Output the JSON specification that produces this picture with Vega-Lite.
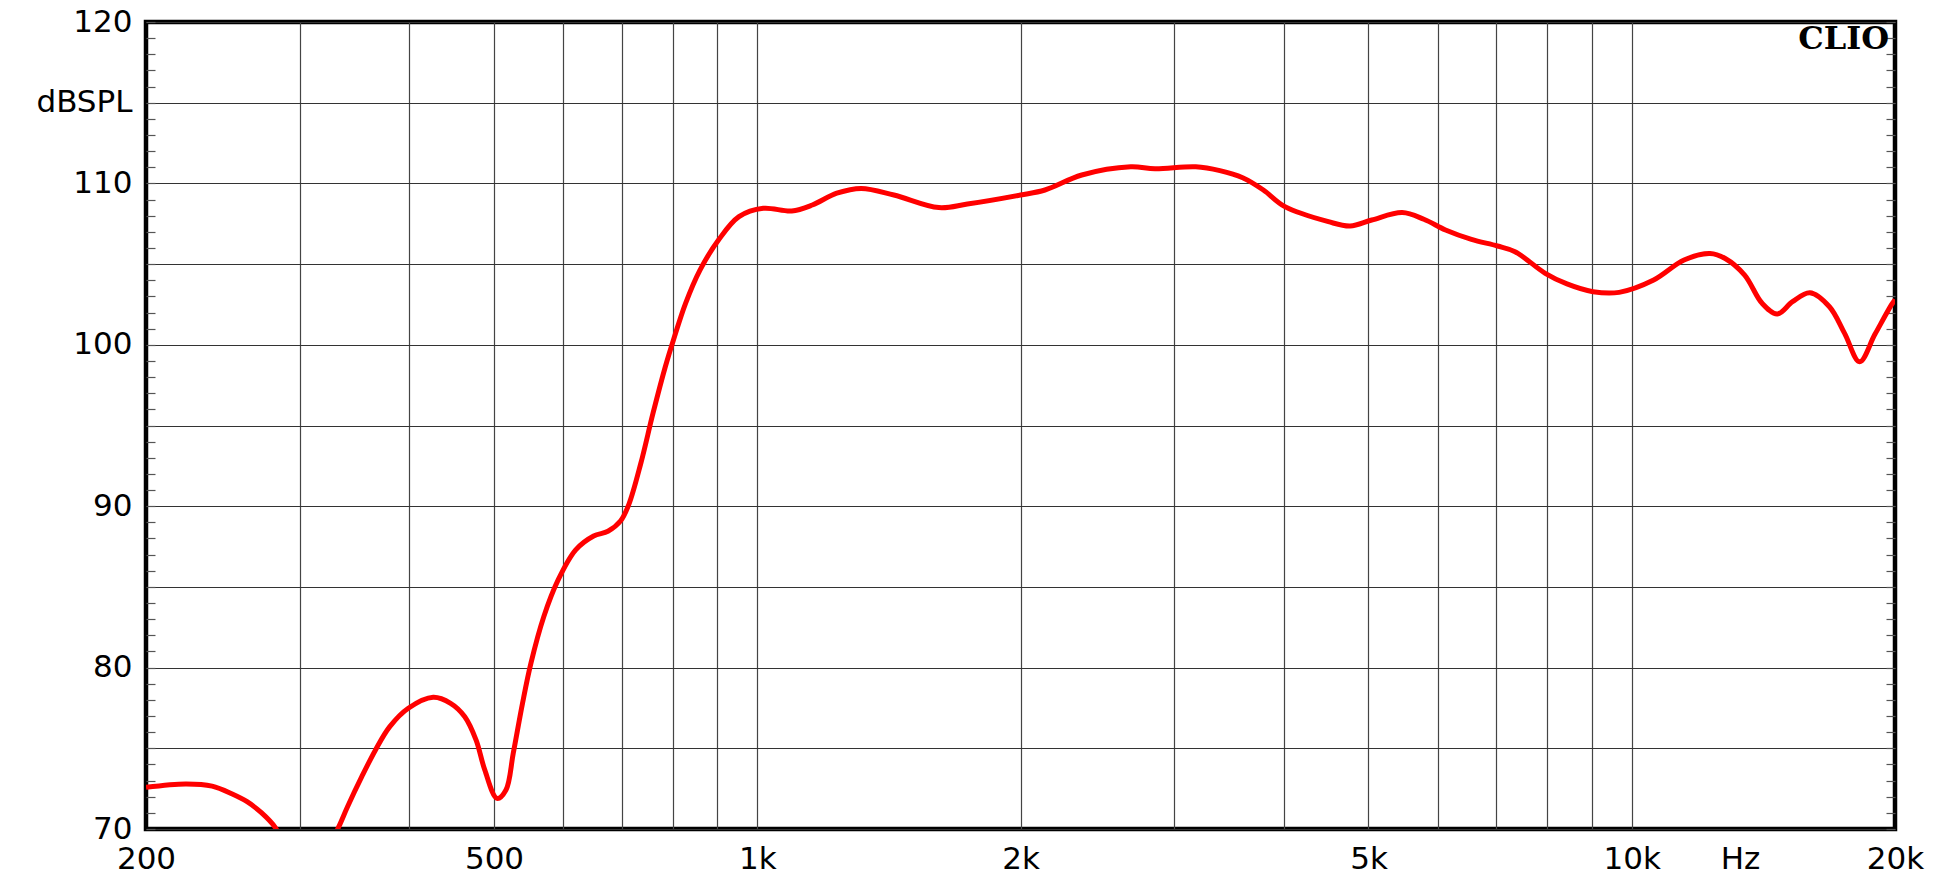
{
  "$schema": "https://vega.github.io/schema/vega-lite/v6.json",
  "width": 1749,
  "height": 807,
  "autosize": "none",
  "padding": {"left": 146, "top": 22, "right": 47, "bottom": 51},
  "background": "white",
  "config": {"view": {"stroke": "black", "strokeWidth": 4.5}},
  "data": {"values": [
    {"f": 200, "db": 72.58}, {"f": 222, "db": 72.79}, {"f": 238, "db": 72.66}, {"f": 251, "db": 72.17},
    {"f": 261, "db": 71.69}, {"f": 271, "db": 71.01}, {"f": 281, "db": 70.1}, {"f": 290, "db": 68.6},
    {"f": 305, "db": 67.3}, {"f": 320, "db": 68.4}, {"f": 332, "db": 70.1}, {"f": 340, "db": 71.38},
    {"f": 353, "db": 73.24}, {"f": 366, "db": 74.9}, {"f": 380, "db": 76.34}, {"f": 399, "db": 77.48},
    {"f": 426, "db": 78.16}, {"f": 446, "db": 77.79}, {"f": 463, "db": 76.96}, {"f": 477, "db": 75.51},
    {"f": 488, "db": 73.66}, {"f": 504, "db": 71.9}, {"f": 516, "db": 72.42}, {"f": 526, "db": 74.69},
    {"f": 539, "db": 77.79}, {"f": 551, "db": 80.26}, {"f": 570, "db": 83.15}, {"f": 592, "db": 85.43},
    {"f": 620, "db": 87.29}, {"f": 650, "db": 88.15}, {"f": 675, "db": 88.45}, {"f": 698, "db": 89.1},
    {"f": 713, "db": 90.1}, {"f": 736, "db": 92.66}, {"f": 760, "db": 95.76}, {"f": 785, "db": 98.64},
    {"f": 802, "db": 100.3}, {"f": 828, "db": 102.57}, {"f": 860, "db": 104.63}, {"f": 903, "db": 106.49},
    {"f": 953, "db": 107.94}, {"f": 1016, "db": 108.46}, {"f": 1095, "db": 108.29}, {"f": 1156, "db": 108.66},
    {"f": 1233, "db": 109.39}, {"f": 1315, "db": 109.69}, {"f": 1433, "db": 109.28}, {"f": 1613, "db": 108.5},
    {"f": 1739, "db": 108.72}, {"f": 2000, "db": 109.28}, {"f": 2133, "db": 109.59}, {"f": 2350, "db": 110.52},
    {"f": 2673, "db": 111.03}, {"f": 2850, "db": 110.91}, {"f": 3173, "db": 111.03}, {"f": 3381, "db": 110.79},
    {"f": 3590, "db": 110.35}, {"f": 3791, "db": 109.59}, {"f": 4012, "db": 108.56}, {"f": 4499, "db": 107.63},
    {"f": 4764, "db": 107.36}, {"f": 5043, "db": 107.73}, {"f": 5464, "db": 108.19}, {"f": 5785, "db": 107.78},
    {"f": 6124, "db": 107.11}, {"f": 6557, "db": 106.53}, {"f": 7022, "db": 106.12}, {"f": 7354, "db": 105.77},
    {"f": 7963, "db": 104.43}, {"f": 8432, "db": 103.77}, {"f": 9031, "db": 103.29}, {"f": 9674, "db": 103.25},
    {"f": 10594, "db": 104.01}, {"f": 11476, "db": 105.25}, {"f": 12290, "db": 105.66}, {"f": 12790, "db": 105.35},
    {"f": 13462, "db": 104.32}, {"f": 14096, "db": 102.57}, {"f": 14670, "db": 101.91}, {"f": 15270, "db": 102.67},
    {"f": 15985, "db": 103.23}, {"f": 16830, "db": 102.36}, {"f": 17515, "db": 100.71}, {"f": 18220, "db": 98.95},
    {"f": 18970, "db": 100.65}, {"f": 19810, "db": 102.47}, {"f": 20000, "db": 102.8}
  ]},
  "resolve": {"axis": {"x": "independent", "y": "independent"}},
  "layer": [
    {
      "mark": {"type": "line", "color": "#ff0000", "strokeWidth": 5, "interpolate": "catmull-rom", "clip": true},
      "encoding": {
        "x": {
          "field": "f", "type": "quantitative",
          "scale": {"type": "log", "domain": [200, 20000], "nice": false},
          "axis": {
            "orient": "bottom",
            "values": [200, 300, 400, 500, 600, 700, 800, 900, 1000, 2000, 3000, 4000, 5000, 6000, 7000, 8000, 9000, 10000, 13300, 20000],
            "title": null, "domain": false, "ticks": false,
            "grid": true, "gridColor": "#444444", "gridWidth": 1.2,
            "gridOpacity": {"condition": {"test": "datum.value == 200 || datum.value == 13300 || datum.value == 20000", "value": 0}, "value": 1},
            "labelExpr": "datum.value == 200 ? '200' : datum.value == 500 ? '500' : datum.value == 1000 ? '1k' : datum.value == 2000 ? '2k' : datum.value == 5000 ? '5k' : datum.value == 10000 ? '10k' : datum.value == 13300 ? 'Hz' : datum.value == 20000 ? '20k' : ''",
            "labelFont": "DejaVu Sans", "labelFontSize": 31, "labelColor": "black",
            "labelPadding": 15, "labelOverlap": false, "labelFlush": false, "labelBound": false
          }
        },
        "y": {
          "field": "db", "type": "quantitative",
          "scale": {"domain": [70, 120], "nice": false, "zero": false},
          "axis": {
            "orient": "left",
            "values": [70,71,72,73,74,75,76,77,78,79,80,81,82,83,84,85,86,87,88,89,90,91,92,93,94,95,96,97,98,99,100,101,102,103,104,105,106,107,108,109,110,111,112,113,114,115,116,117,118,119,120],
            "title": null, "domain": false, "offset": -9,
            "ticks": true, "tickSize": 9, "tickColor": "#555555", "tickWidth": 1.2,
            "grid": true, "gridColor": "#333333", "gridWidth": 1.1,
            "gridOpacity": {"condition": {"test": "datum.value % 5 == 0", "value": 1}, "value": 0},
            "labelExpr": "datum.value == 115 ? 'dBSPL' : (datum.value % 10 == 0 ? datum.label : '')",
            "labelFont": "DejaVu Sans", "labelFontSize": 31,
            "labelColor": "black", "labelPadding": 14, "labelOverlap": false, "labelFlush": false, "labelBound": false
          }
        }
      }
    },
    {
      "mark": {"type": "line", "strokeOpacity": 0, "clip": true},
      "encoding": {
        "x": {"field": "f", "type": "quantitative", "scale": {"type": "log", "domain": [200, 20000], "nice": false}, "axis": null},
        "y": {
          "field": "db", "type": "quantitative",
          "scale": {"domain": [70, 120], "nice": false, "zero": false},
          "axis": {
            "orient": "right",
            "values": [70,71,72,73,74,75,76,77,78,79,80,81,82,83,84,85,86,87,88,89,90,91,92,93,94,95,96,97,98,99,100,101,102,103,104,105,106,107,108,109,110,111,112,113,114,115,116,117,118,119,120],
            "title": null, "domain": false, "offset": -9,
            "ticks": true, "tickSize": 9, "tickColor": "#555555", "tickWidth": 1.2,
            "grid": false, "labels": false
          }
        }
      }
    },
    {
      "data": {"values": [{"brand": "CLIO"}]},
      "mark": {"type": "text", "align": "right", "baseline": "top", "dx": -6, "dy": 2, "font": "DejaVu Serif", "fontWeight": "bold", "fontSize": 32, "color": "black"},
      "encoding": {
        "text": {"field": "brand"},
        "x": {"datum": 20000, "type": "quantitative", "scale": {"type": "log", "domain": [200, 20000], "nice": false}, "axis": null},
        "y": {"datum": 120, "type": "quantitative", "scale": {"domain": [70, 120], "nice": false, "zero": false}, "axis": null}
      }
    }
  ]
}
